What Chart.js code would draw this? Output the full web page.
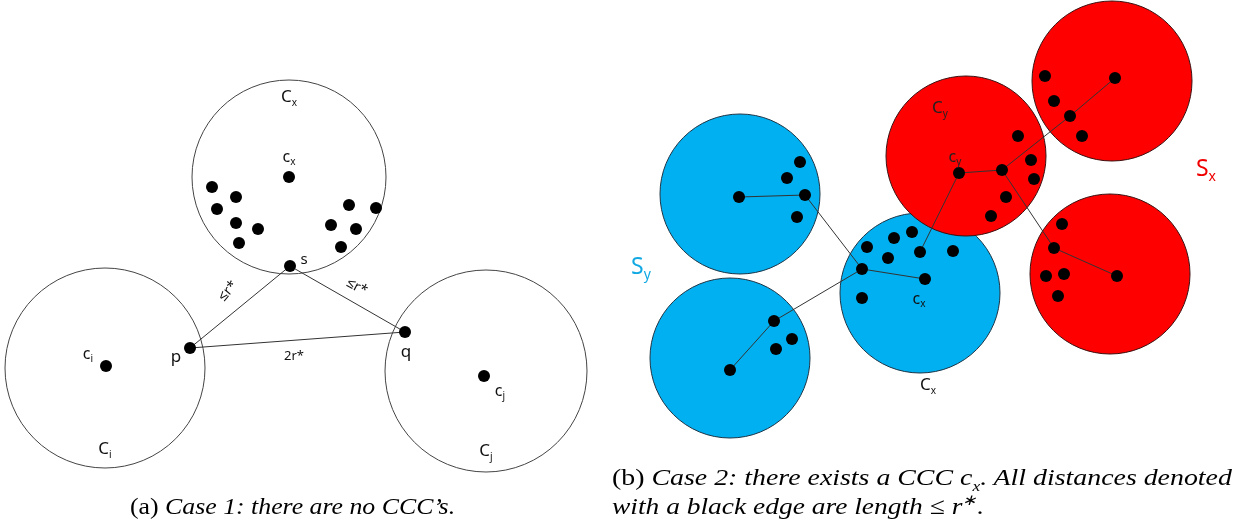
<!DOCTYPE html>
<html lang="en">
<head>
    <meta charset="UTF-8">
    <title>CCC cases</title>
    <script src="https://cdn.jsdelivr.net/npm/chart.js"></script>
    <style>
        html, body { margin: 0; padding: 0; background: #fff; }
        #wrap { position: relative; width: 1243px; height: 524px; overflow: hidden; }
        #fig { position: absolute; left: 0; top: 0; }
        .cap { position: absolute; font-family: "Liberation Serif", serif; font-size: 24px; color: #000; white-space: nowrap; line-height: 30px; transform-origin: 0 50%; }
        .cap sub, .cap sup { font-size: 15px; line-height: 0; }
    </style>
</head>
<body>
<div id="wrap">
    <canvas id="fig" width="1243" height="524"></canvas>
    <div class="cap" data-left="130" data-width="325" style="top:491px;">(a) <i>Case 1: there are no CCC’s.</i></div>
    <div class="cap" data-left="612" data-width="620" style="top:462px;">(b) <i>Case 2: there exists a CCC <i>c<sub>x</sub></i>. All distances denoted</i></div>
    <div class="cap" data-left="612" data-width="372" style="top:491px;"><i>with a black edge are length ≤ <i>r</i><sup>∗</sup>.</i></div>
</div>

<script>
    // (a) clusters: white circles
    const caseOneCircles = [
        { x: 289, y: 177, r: 97 },   // C_x
        { x: 105, y: 368, r: 100 },  // C_i
        { x: 486, y: 371, r: 101 }   // C_j
    ];
    // (a) points
    const caseOnePoints = [
        { x: 289, y: 177 }, { x: 290, y: 266 }, { x: 190, y: 348 }, { x: 405, y: 332 },
        { x: 106, y: 366 }, { x: 484, y: 376 },
        { x: 212, y: 187 }, { x: 236, y: 197 }, { x: 217, y: 209 }, { x: 236, y: 223 },
        { x: 258, y: 229 }, { x: 239, y: 243 }, { x: 349, y: 205 }, { x: 376, y: 208 },
        { x: 331, y: 225 }, { x: 356, y: 229 }, { x: 341, y: 247 }
    ];
    // (a) edges s-p, s-q, p-q
    const caseOneEdges = [
        [290, 266, 190, 348],
        [290, 266, 405, 332],
        [190, 348, 405, 332]
    ];

    // (b) clusters
    const blueCircles = [
        { x: 740, y: 194, r: 80 },
        { x: 730, y: 358, r: 80 },
        { x: 920, y: 293, r: 80 }    // C_x
    ];
    const redCircles = [
        { x: 1112, y: 81, r: 80 },
        { x: 966, y: 156, r: 80 },   // C_y
        { x: 1110, y: 274, r: 80 }
    ];
    // (b) points
    const caseTwoPoints = [
        { x: 739, y: 197 }, { x: 805, y: 195 }, { x: 800, y: 162 }, { x: 787, y: 178 }, { x: 797, y: 217 },
        { x: 730, y: 370 }, { x: 774, y: 321 }, { x: 792, y: 339 }, { x: 776, y: 349 },
        { x: 862, y: 269 }, { x: 925, y: 279 }, { x: 867, y: 247 }, { x: 894, y: 238 }, { x: 912, y: 232 },
        { x: 888, y: 258 }, { x: 920, y: 252 }, { x: 953, y: 251 }, { x: 862, y: 298 },
        { x: 959, y: 173 }, { x: 1002, y: 170 }, { x: 1018, y: 136 }, { x: 1031, y: 160 }, { x: 1034, y: 179 },
        { x: 1006, y: 197 }, { x: 991, y: 216 },
        { x: 1115, y: 78 }, { x: 1045, y: 76 }, { x: 1054, y: 101 }, { x: 1070, y: 116 }, { x: 1082, y: 136 },
        { x: 1054, y: 248 }, { x: 1117, y: 276 }, { x: 1062, y: 224 }, { x: 1046, y: 276 }, { x: 1064, y: 274 },
        { x: 1058, y: 296 }
    ];
    const caseTwoEdges = [
        [739, 197, 805, 195],
        [805, 195, 862, 269],
        [862, 269, 925, 279],
        [862, 269, 774, 321],
        [774, 321, 730, 370],
        [920, 252, 959, 173],
        [959, 173, 1002, 170],
        [1002, 170, 1070, 116],
        [1070, 116, 1115, 78],
        [1002, 170, 1054, 248],
        [1054, 248, 1117, 276]
    ];

    // text labels: main text, subscript, anchor, size, colour, rotation (deg)
    const labels = [
        { t: 'C', s: 'x', x: 289, y: 97, size: 17 },
        { t: 'c', s: 'x', x: 289, y: 157, size: 16 },
        { t: 's', s: '', x: 304, y: 260, size: 15 },
        { t: 'p', s: '', x: 176, y: 357, size: 17 },
        { t: 'q', s: '', x: 406, y: 352, size: 17 },
        { t: 'c', s: 'i', x: 88, y: 354, size: 16 },
        { t: 'c', s: 'j', x: 500, y: 391, size: 16 },
        { t: 'C', s: 'i', x: 105, y: 449, size: 17 },
        { t: 'C', s: 'j', x: 486, y: 451, size: 17 },
        { t: '2r*', s: '', x: 294, y: 356, size: 13 },
        { t: '≤r*', s: '', x: 228, y: 291, size: 14, rot: -50 },
        { t: '≤r*', s: '', x: 357, y: 287, size: 14, rot: 28 },
        { t: 'C', s: 'y', x: 940, y: 108, size: 17, color: '#222' },
        { t: 'c', s: 'y', x: 955, y: 157, size: 16, color: '#222' },
        { t: 'c', s: 'x', x: 919, y: 299, size: 16 },
        { t: 'C', s: 'x', x: 928, y: 385, size: 17 },
        { t: 'S', s: 'y', x: 641, y: 267, size: 23, color: '#12a9e3' },
        { t: 'S', s: 'x', x: 1206, y: 169, size: 23, color: '#f00000' }
    ];

    const labelPlugin = {
        id: 'labels',
        afterDatasetsDraw(chart) {
            const ctx = chart.ctx;
            const xs = chart.scales.x, ys = chart.scales.y;
            const font = 'px "Noto Sans", "Liberation Sans", sans-serif';
            labels.forEach(l => {
                ctx.save();
                ctx.translate(xs.getPixelForValue(l.x), ys.getPixelForValue(l.y));
                if (l.rot) ctx.rotate(l.rot * Math.PI / 180);
                ctx.fillStyle = l.color || '#111';
                ctx.textBaseline = 'middle';
                ctx.textAlign = 'left';
                ctx.font = l.size + font;
                const w = ctx.measureText(l.t).width;
                const subSize = Math.round(l.size * 0.6);
                ctx.font = subSize + font;
                const sw = l.s ? ctx.measureText(l.s).width : 0;
                const x0 = -(w + sw) / 2;
                ctx.font = l.size + font;
                ctx.fillText(l.t, x0, 0);
                if (l.s) {
                    ctx.font = subSize + font;
                    ctx.fillText(l.s, x0 + w, l.size * 0.35);
                }
                ctx.restore();
            });
        }
    };

    function edgeSets(edges) {
        return edges.map(e => ({
            type: 'scatter',
            data: [{ x: e[0], y: e[1] }, { x: e[2], y: e[3] }],
            showLine: true,
            borderColor: '#333',
            borderWidth: 1,
            pointRadius: 0,
            order: 1
        }));
    }

    const dotStyle = { type: 'scatter', backgroundColor: '#000', borderWidth: 0, pointRadius: 6, order: 0 };

    new Chart(document.getElementById('fig'), {
        type: 'bubble',
        data: {
            datasets: [
                Object.assign({ data: caseOnePoints }, dotStyle),
                Object.assign({ data: caseTwoPoints }, dotStyle),
                ...edgeSets(caseOneEdges),
                ...edgeSets(caseTwoEdges),
                { type: 'bubble', data: redCircles, backgroundColor: '#ff0000', borderColor: '#3a1010', borderWidth: 1, order: 2 },
                { type: 'bubble', data: blueCircles, backgroundColor: '#00b0f0', borderColor: '#1d3446', borderWidth: 1, order: 3 },
                { type: 'bubble', data: caseOneCircles, backgroundColor: 'rgba(0,0,0,0)', borderColor: '#444', borderWidth: 1, order: 3 }
            ]
        },
        options: {
            responsive: false,
            animation: false,
            events: [],
            devicePixelRatio: 1,
            layout: { padding: 0, autoPadding: false },
            plugins: { legend: { display: false }, tooltip: { enabled: false } },
            scales: {
                x: { type: 'linear', display: false, min: 0, max: 1243 },
                y: { type: 'linear', display: false, min: 0, max: 524, reverse: true }
            },
            clip: false
        },
        plugins: [labelPlugin]
    });

    // stretch caption lines to the widths they have in the figure
    document.querySelectorAll('.cap').forEach(el => {
        const w = el.getBoundingClientRect().width;
        const target = +el.dataset.width;
        el.style.left = el.dataset.left + 'px';
        el.style.transform = 'scaleX(' + (target / w).toFixed(3) + ')';
    });
</script>
</body>
</html>
